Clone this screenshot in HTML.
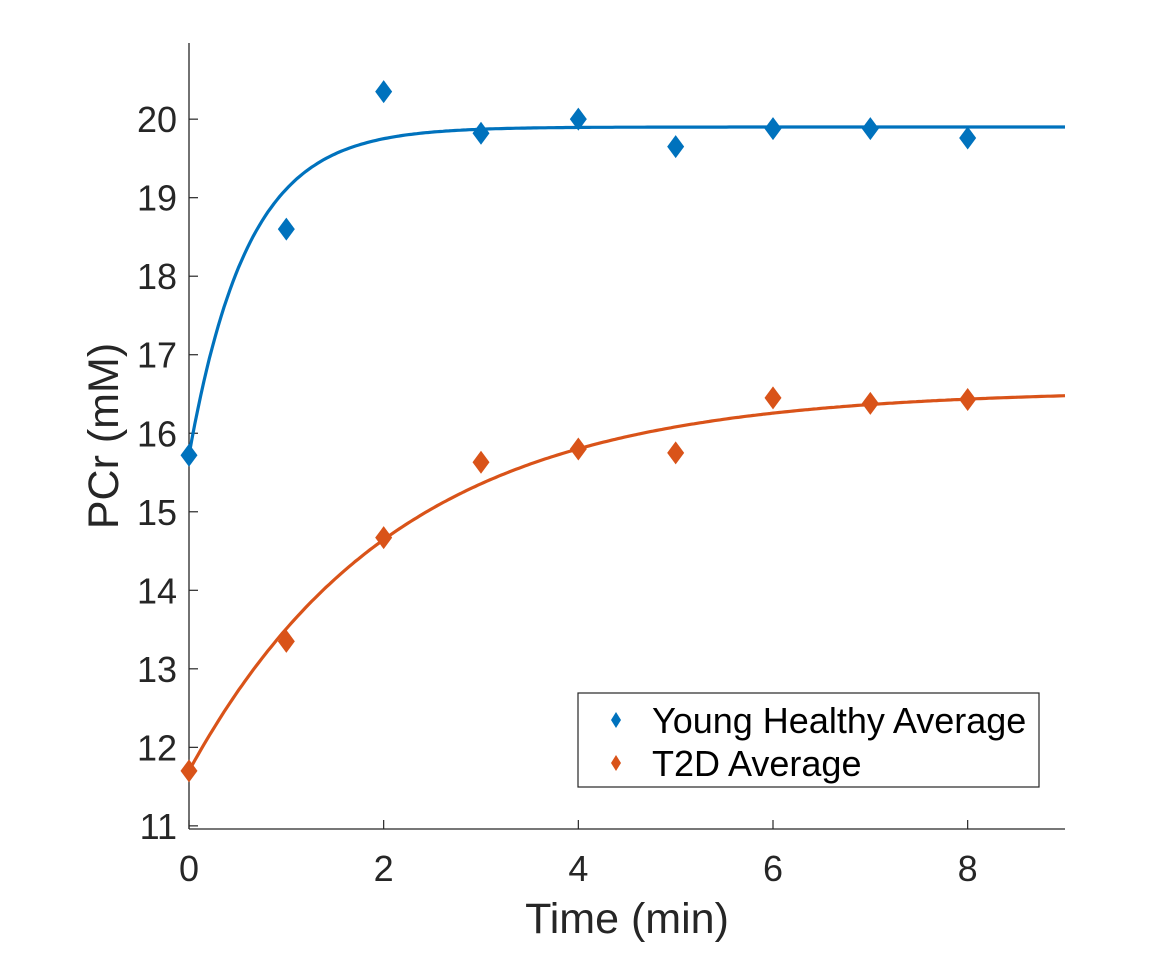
<!DOCTYPE html>
<html><head><meta charset="utf-8"><style>
html,body{margin:0;padding:0;background:#fff;}
svg{display:block;font-family:"Liberation Sans",Arial,sans-serif;}
</style></head><body>
<svg id="chart" width="1149" height="964" viewBox="0 0 1149 964" xmlns="http://www.w3.org/2000/svg">
<g id="axes"></g>
<g id="curves"></g>
<g id="points"></g>
<g id="legend"></g>
</svg>
<script>
const times = [0,1,2,3,4,5,6,7,8];
const youngValues = [15.72,18.6,20.35,19.82,20.0,19.65,19.88,19.88,19.76];
const t2dValues = [11.7,13.35,14.67,15.63,15.8,15.75,16.45,16.38,16.43];
const youngFit = [19.9,15.72,0.6];   // plateau, start, tau
const t2dFit = [16.55,11.7,2.14];
const xTicks = [0,2,4,6,8];
const yTicks = [11,12,13,14,15,16,17,18,19,20];

const X0=189, X1=1065, XMIN=0, XMAX=9;
const YTOP=43, YBOT=829, YMAX=20.97, YMIN=10.96;
const sx = v => X0 + (v-XMIN)/(XMAX-XMIN)*(X1-X0);
const sy = v => YBOT - (v-YMIN)/(YMAX-YMIN)*(YBOT-YTOP);
const NS='http://www.w3.org/2000/svg';
function mk(tag, attrs, parent){const e=document.createElementNS(NS,tag);for(const k in attrs)e.setAttribute(k,attrs[k]);parent.appendChild(e);return e;}
const axes=document.getElementById('axes');
const BLUE='#0072BD', ORANGE='#D95319', TXT='#262626';

let l=mk('line',{x1:X0,y1:YTOP,x2:X0,y2:YBOT,stroke:TXT,'stroke-width':1.3},axes);


l=mk('line',{x1:X0,y1:YBOT,x2:X1,y2:YBOT,stroke:TXT,'stroke-width':1.3},axes);



xTicks.forEach(v=>{
  const t=mk('line',{x1:sx(v),y1:YBOT,x2:sx(v),y2:YBOT-9,stroke:TXT,'stroke-width':1.2},axes);
  
  
  const tx=mk('text',{x:sx(v),y:881,'text-anchor':'middle','font-size':36,fill:TXT},axes);
  tx.textContent=v;
  
  
});
yTicks.forEach(v=>{
  const t=mk('line',{x1:X0,y1:sy(v),x2:X0+9,y2:sy(v),stroke:TXT,'stroke-width':1.2},axes);
  
  
  const tx=mk('text',{x:177,y:sy(v)+13,'text-anchor':'end','font-size':36,fill:TXT},axes);
  tx.textContent=v;
  
  
});
let lab=mk('text',{x:627,y:933,'text-anchor':'middle','font-size':43,fill:TXT},axes);
lab.textContent='Time (min)';


lab=mk('text',{x:0,y:0,'text-anchor':'middle','font-size':43,fill:TXT,transform:'translate(118,436) rotate(-90)'},axes);
lab.textContent='PCr (mM)';



const curves=document.getElementById('curves');
function curve(p,color,name){
  let d='';
  for(let i=0;i<=300;i++){const t=XMAX*i/300;const y=p[0]-(p[0]-p[1])*Math.exp(-t/p[2]);d+=(i?'L':'M')+sx(t).toFixed(1)+','+sy(y).toFixed(1);}
  const e=mk('path',{d:d,fill:'none',stroke:color,'stroke-width':3.2},curves);
  
  
}
curve(youngFit,BLUE,'young-fit-curve');
curve(t2dFit,ORANGE,'t2d-fit-curve');

const pts=document.getElementById('points');
function diamond(x,y,w,h,color,parent){
  return mk('path',{d:`M${x},${y-h}L${x+w},${y}L${x},${y+h}L${x-w},${y}Z`,fill:color},parent);
}
times.forEach((t,i)=>{
  const a=diamond(sx(t),sy(youngValues[i]),8.5,11.5,BLUE,pts);
  
  
  const b=diamond(sx(t),sy(t2dValues[i]),8.5,11.5,ORANGE,pts);
  
  
});

const lg=document.getElementById('legend');
const box=mk('rect',{x:578,y:693,width:461,height:94,fill:'#fff',stroke:TXT,'stroke-width':1.2},lg);


[[BLUE,'Young Healthy Average',720,'legend-entry-young'],[ORANGE,'T2D Average',763,'legend-entry-t2d']].forEach(r=>{
  const g=mk('g',{},lg);
  
  
  diamond(616,r[2],5,8,r[0],g);
  const tx=mk('text',{x:652,y:r[2]+13,'font-size':36,fill:'#000'},g);
  tx.textContent=r[1];
});
</script>
</body></html>
